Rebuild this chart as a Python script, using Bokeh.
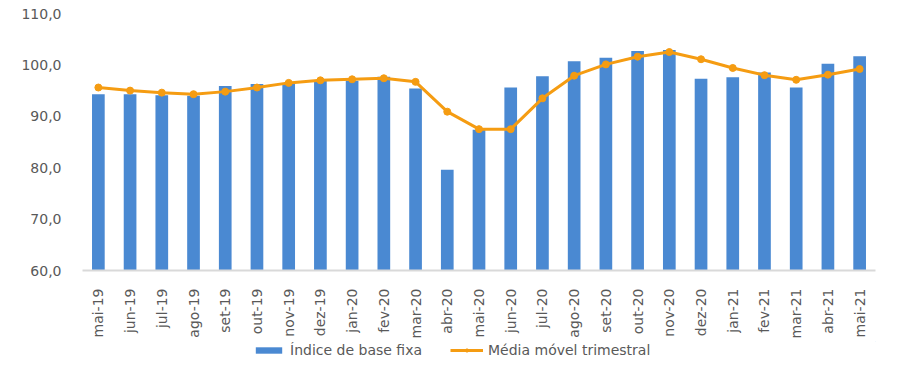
from bokeh.plotting import figure
from bokeh.layouts import column
from bokeh.models import FactorRange, Range1d, FixedTicker, Legend, LegendItem
from bokeh.embed import file_html
from bokeh.resources import INLINE
import math

months = ["mai-19", "jun-19", "jul-19", "ago-19", "set-19", "out-19", "nov-19", "dez-19",
          "jan-20", "fev-20", "mar-20", "abr-20", "mai-20", "jun-20", "jul-20", "ago-20",
          "set-20", "out-20", "nov-20", "dez-20", "jan-21", "fev-21", "mar-21", "abr-21", "mai-21"]
indice = [94.3, 94.3, 94.1, 94.0, 95.9, 96.3, 96.5, 96.9, 96.9, 97.7, 95.4, 79.6,
          87.4, 95.6, 97.8, 100.7, 101.4, 102.7, 102.9, 97.3, 97.6, 98.5, 95.6, 100.2, 101.7]
media = [95.6, 95.0, 94.6, 94.3, 94.8, 95.6, 96.5, 97.0, 97.2, 97.4, 96.7, 90.9,
         87.5, 87.5, 93.5, 97.9, 100.1, 101.6, 102.5, 101.1, 99.4, 98.0, 97.1, 98.1, 99.2]
y_ticks = [60, 70, 80, 90, 100, 110]
y_labels = ["60,0", "70,0", "80,0", "90,0", "100,0", "110,0"]
legend_labels = ["Índice de base fixa", "Média móvel trimestral"]

FONT = "DejaVu Sans"
TXT = "#595959"
BLUE = "#4a89d2"
ORANGE = "#f59c12"

p = figure(width=895, height=341, x_range=FactorRange(*months, range_padding=0),
           y_range=Range1d(60, 110), output_backend="svg", toolbar_location=None,
           min_border_left=82, min_border_right=20, min_border_top=13, min_border_bottom=66)
p.outline_line_color = None
p.grid.grid_line_color = None

p.vbar(x=months, top=indice, bottom=60, width=0.4, fill_color=BLUE, line_color=None)
p.line(x=months, y=media, line_color=ORANGE, line_width=3)
p.scatter(x=months, y=media, size=7, marker="circle", fill_color=ORANGE, line_color=ORANGE)

p.yaxis.ticker = FixedTicker(ticks=y_ticks)
p.yaxis.major_label_overrides = {t: l for t, l in zip(y_ticks, y_labels)}
p.yaxis.axis_line_color = None
p.yaxis.major_tick_line_color = None
p.yaxis.minor_tick_line_color = None
p.yaxis.major_label_standoff = 15
p.yaxis.major_label_text_font = FONT
p.yaxis.major_label_text_font_size = "14px"
p.yaxis.major_label_text_color = TXT

p.xaxis.axis_line_color = "#d9d9d9"
p.xaxis.axis_line_width = 2
p.xaxis.major_tick_line_color = None
p.xaxis.minor_tick_line_color = None
p.xaxis.major_label_orientation = math.pi / 2
p.xaxis.major_label_standoff = 12
p.xaxis.major_label_text_font = FONT
p.xaxis.major_label_text_font_size = "14px"
p.xaxis.major_label_text_color = TXT

# legend figure below the chart (dummy renderers lie outside its visible range)
q = figure(width=895, height=36, x_range=Range1d(0, 1), y_range=Range1d(0, 1),
           output_backend="svg", toolbar_location=None,
           min_border_left=0, min_border_right=0, min_border_top=0, min_border_bottom=0)
q.axis.visible = False
q.grid.grid_line_color = None
q.outline_line_color = None
lb = q.vbar(x=[5], top=[5], bottom=[4], width=0.1, fill_color=BLUE, line_color=None)
ll = q.line(x=[5, 6], y=[5, 5], line_color=ORANGE, line_width=3)
lp = q.scatter(x=[5], y=[5], size=5, marker="circle", fill_color=ORANGE, line_color=ORANGE)

legend = Legend(items=[LegendItem(label=legend_labels[0], renderers=[lb]),
                       LegendItem(label=legend_labels[1], renderers=[ll, lp])],
                orientation="horizontal", location=(170, 19),
                glyph_width=33, glyph_height=8, label_height=16, label_standoff=5,
                spacing=28, padding=0, margin=0, border_line_color=None,
                background_fill_alpha=0,
                label_text_font=FONT, label_text_font_size="14px", label_text_color=TXT)
q.add_layout(legend, "center")

open("out.html", "w").write(file_html(column(p, q), INLINE))
